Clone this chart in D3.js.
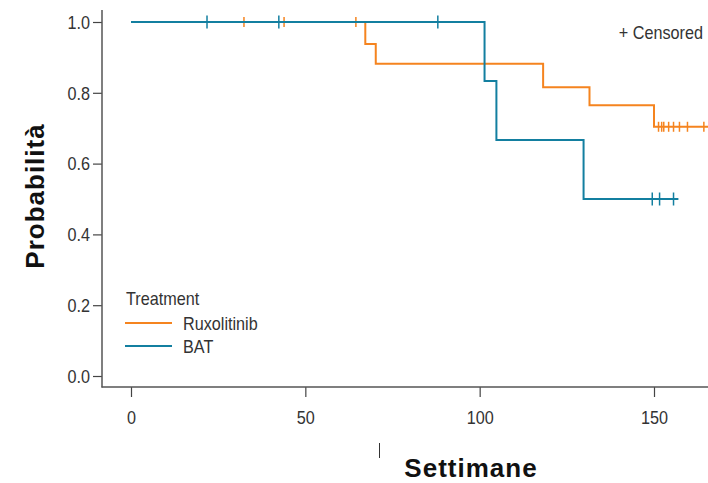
<!DOCTYPE html>
<html>
<head>
<meta charset="utf-8">
<script src="https://cdn.jsdelivr.net/npm/d3@7"></script>
<style>
  body { margin: 0; background: #fff; }
  svg { display: block; }
</style>
</head>
<body>
<div id="chart"></div>
<script>
// Data
const ruxTimes = [0, 67.2, 70.2, 118.2, 131.5, 150.0];
const ruxSurv = [1, 0.938, 0.882, 0.816, 0.765, 0.704];
const ruxEnd = 166;
const ruxCensorTimes = [32.4, 43.9, 64.5, 151.3, 152.2, 152.8, 154.2, 155.6, 157.3, 159.6, 164.3];

const batTimes = [0, 101.4, 104.8, 129.8];
const batSurv = [1, 0.833, 0.667, 0.5];
const batEnd = 157;
const batCensorTimes = [21.8, 42.4, 88.0, 149.5, 151.6, 155.6];

const xTicks = [0, 50, 100, 150];
const yTicks = [0, 0.2, 0.4, 0.6, 0.8, 1.0];

const width = 708, height = 483;
const sans = "'Liberation Sans', Arial, sans-serif";
const squeeze = 0.9; // the source uses a condensed sans

const svg = d3.select("#chart").append("svg")
    .attr("width", width)
    .attr("height", height);

const x = d3.scaleLinear().domain([0, 150]).range([131, 654]);
const y = d3.scaleLinear().domain([0, 1]).range([376, 22]);

// survival value at time t (step function)
function survAt(times, surv, t) {
    let s = surv[0];
    times.forEach((tt, i) => { if (tt <= t) s = surv[i]; });
    return s;
}

function stepPoints(times, surv, end) {
    const pts = times.map((t, i) => [t, surv[i]]);
    pts.push([end, surv[surv.length - 1]]);
    return pts;
}

// condensed text helper
function narrowText(parent, px, py, str, anchor) {
    return parent.append("g")
        .attr("transform", `translate(${px},${py})`)
        .append("text")
        .attr("transform", `scale(${squeeze},1)`)
        .attr("text-anchor", anchor || "start")
        .style("font-family", sans)
        .style("font-size", "18px")
        .style("fill", "#333")
        .text(str);
}

const line = d3.line()
    .x(d => x(d[0]))
    .y(d => y(d[1]))
    .curve(d3.curveStepAfter);

// Axes
const xAxis = svg.append("g")
    .attr("transform", "translate(0,387)")
    .call(d3.axisBottom(x).tickValues(xTicks).tickSize(10).tickPadding(14));
xAxis.select(".domain").remove();

const yAxis = svg.append("g")
    .attr("transform", "translate(102,0)")
    .call(d3.axisLeft(y).tickValues(yTicks).tickFormat(d3.format(".1f")).tickSize(9).tickPadding(3));
yAxis.select(".domain").remove();

svg.selectAll(".tick line").attr("stroke", "#444").attr("stroke-width", 1.2);
svg.selectAll(".tick text")
    .attr("transform", `scale(${squeeze},1)`)
    .style("font-family", sans)
    .style("font-size", "18px")
    .style("fill", "#333");
yAxis.selectAll(".tick text").attr("x", -12 / squeeze).attr("dy", "0.35em");

svg.append("line")
    .attr("x1", 102).attr("x2", 102)
    .attr("y1", 10).attr("y2", 387.5)
    .attr("stroke", "#555").attr("stroke-width", 1.5);
svg.append("line")
    .attr("x1", 101.5).attr("x2", width)
    .attr("y1", 387).attr("y2", 387)
    .attr("stroke", "#555").attr("stroke-width", 1.5);

// Curves
const series = [
    { name: "Ruxolitinib", color: "#f5841f", times: ruxTimes, surv: ruxSurv, end: ruxEnd, censor: ruxCensorTimes, tick: 10 },
    { name: "BAT", color: "#137fa0", times: batTimes, surv: batSurv, end: batEnd, censor: batCensorTimes, tick: 13 }
];

series.forEach(s => {
    svg.append("path")
        .datum(stepPoints(s.times, s.surv, s.end))
        .attr("d", line)
        .attr("fill", "none")
        .attr("stroke", s.color)
        .attr("stroke-width", 2);

    svg.append("g").selectAll("line")
        .data(s.censor)
        .join("line")
        .attr("x1", d => x(d)).attr("x2", d => x(d))
        .attr("y1", d => y(survAt(s.times, s.surv, d)) - s.tick / 2)
        .attr("y2", d => y(survAt(s.times, s.surv, d)) + s.tick / 2)
        .attr("stroke", s.color)
        .attr("stroke-width", 1.5);
});

// Censored note
narrowText(svg, 703, 39, "+ Censored", "end");

// Legend
const legend = svg.append("g").attr("transform", "translate(125,0)");
narrowText(legend, 1, 305, "Treatment");

series.forEach((s, i) => {
    const ly = 323 + i * 23;
    legend.append("line")
        .attr("x1", 0).attr("x2", 47)
        .attr("y1", ly).attr("y2", ly)
        .attr("stroke", s.color).attr("stroke-width", 2);
    narrowText(legend, 58, ly + 6.5, s.name);
});

// Axis titles
svg.append("text")
    .attr("transform", "translate(44,196) rotate(-90)")
    .attr("text-anchor", "middle")
    .style("font-family", sans)
    .style("font-weight", "bold")
    .style("font-size", "26px")
    .style("letter-spacing", "1px")
    .style("fill", "#111")
    .text("Probabilità");

svg.append("text")
    .attr("x", 471).attr("y", 477)
    .attr("text-anchor", "middle")
    .style("font-family", sans)
    .style("font-weight", "bold")
    .style("font-size", "26px")
    .style("letter-spacing", "1px")
    .style("fill", "#111")
    .text("Settimane");

// small stray mark under the axis, as in the source image
svg.append("line")
    .attr("x1", 379.5).attr("x2", 379.5)
    .attr("y1", 443).attr("y2", 458)
    .attr("stroke", "#333").attr("stroke-width", 1);
</script>
</body>
</html>
